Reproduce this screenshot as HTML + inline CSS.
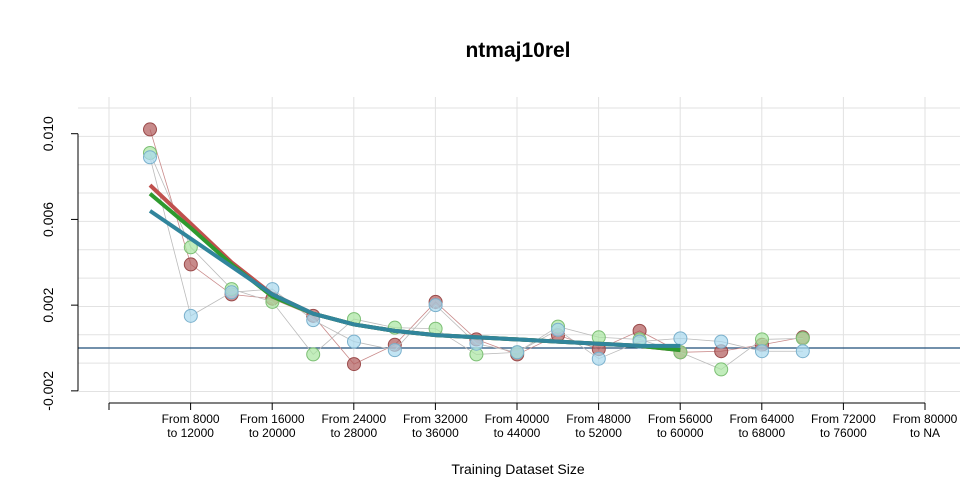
<!DOCTYPE html>
<html><head><meta charset="utf-8"><style>
body{margin:0;background:#fff;font-family:"Liberation Sans",sans-serif}
svg{display:block}
</style></head><body>
<svg id="c" width="960" height="480" xmlns="http://www.w3.org/2000/svg">
<text x="518" y="57" font-size="21" font-weight="bold" text-anchor="middle">ntmaj10rel</text>
<text x="518" y="474" font-size="14" text-anchor="middle">Training Dataset Size</text>
<g id="grid"></g><g id="axes"></g><g id="series"></g>
</svg>
<script>
const categories=["","From 8000\nto 12000","From 16000\nto 20000","From 24000\nto 28000","From 32000\nto 36000","From 40000\nto 44000","From 48000\nto 52000","From 56000\nto 60000","From 64000\nto 68000","From 72000\nto 76000","From 80000\nto NA"];
const yTicks=[-0.002,0.002,0.006,0.010];
const yTickLabels=["-0.002","0.002","0.006","0.010"];
const redPts=[0.0102,0.0039,0.0025,0.0023,0.0015,-0.00075,0.00015,0.00215,0.0004,-0.0003,0.0006,-0.00005,0.0008,-0.0002,-0.00015,0.00015,0.0005];
const greenPts=[0.0091,0.0047,0.00275,0.00215,-0.0003,0.00135,0.00095,0.0009,-0.0003,-0.0002,0.001,0.0005,0.0004,-0.0002,-0.001,0.0004,0.00045];
const bluePts=[0.0089,0.0015,0.0026,0.00275,0.0013,0.0003,-0.0001,0.002,0.0002,-0.0002,0.00085,-0.0005,0.0003,0.00045,0.0003,-0.00015,-0.00015];
const redFit=[0.0076,0.0058,0.0040,0.0025,0.0016,0.0011,0.0008,0.0006,0.0005,0.0004,0.0003,0.0002,0.0001,-0.0001];
const greenFit=[0.0072,0.0056,0.0039,0.0024,0.0016,0.0011,0.0008,0.0006,0.0005,0.0004,0.0003,0.0002,0.0001,-0.0001];
const blueFit=[0.0064,0.0051,0.0038,0.0025,0.0016,0.0011,0.0008,0.0006,0.0005,0.0004,0.0003,0.0002,0.0001,0.0001];
const NS="http://www.w3.org/2000/svg";
const X=i=>150+i*40.8, Y=v=>348-v*21430;
function mk(p,t,a){const e=document.createElementNS(NS,t);for(const k in a)e.setAttribute(k,a[k]);p.appendChild(e);return e;}
const G=document.getElementById('grid'),A=document.getElementById('axes'),S=document.getElementById('series');
for(let k=0;k<11;k++){const y=108+k*28.35;const l=mk(G,'line',{x1:78,x2:960,y1:y,y2:y,stroke:'#e2e2e2'});

}
for(let k=0;k<categories.length;k++){const x=109+k*81.6;const l=mk(G,'line',{x1:x,x2:x,y1:97,y2:403,stroke:'#e2e2e2'});

}
const zl=mk(G,'line',{x1:78,x2:960,y1:Y(0),y2:Y(0),stroke:'#1f4e79','stroke-width':1.3});


const ax=mk(A,'line',{x1:109,x2:925,y1:403,y2:403,stroke:'#000'});


categories.forEach((c,k)=>{const x=109+k*81.6;mk(A,'line',{x1:x,x2:x,y1:403,y2:410,stroke:'#000'});
const lines=c.split('\n');lines.forEach((s,j)=>{if(!s)return;const t=mk(A,'text',{x:x,y:423+j*14,'font-size':12,'text-anchor':'middle'});t.textContent=s;

});});
const yl=mk(A,'line',{x1:78,x2:78,y1:Y(-0.002),y2:Y(0.010),stroke:'#000'});


yTicks.forEach((v,k)=>{const y=Y(v);mk(A,'line',{x1:71,x2:78,y1:y,y2:y,stroke:'#000'});
const t=mk(A,'text',{x:53,y:y,'font-size':14,'text-anchor':'middle',transform:`rotate(-90 53 ${y})`});t.textContent=yTickLabels[k];

});
function series(pts,fit,line,fill,stroke,fitCol,name){
const pl=mk(S,'polyline',{points:pts.map((v,i)=>X(i)+','+Y(v)).join(' '),fill:'none',stroke:line,'stroke-width':0.8});


pts.forEach((v,i)=>{const c=mk(S,'circle',{cx:X(i),cy:Y(v),r:6.5,fill:fill,stroke:stroke,'fill-opacity':0.7});

});
return ()=>{const f=mk(S,'polyline',{points:fit.map((v,i)=>X(i)+','+Y(v)).join(' '),fill:'none',stroke:fitCol,'stroke-width':4,'stroke-linejoin':'round'});

};}
const f1=series(redPts,redFit,'#c98a8a','#b05a5a','#9a4a4a','#c0504d','red');
const f2=series(greenPts,greenFit,'#bbb','#a8e6a0','#7cbf74','#2e9a2e','green');
const f3=series(bluePts,blueFit,'#bbb','#a8d8ee','#7ab0cc','#31859c','blue');
f1();f2();f3();
</script>
</body></html>
